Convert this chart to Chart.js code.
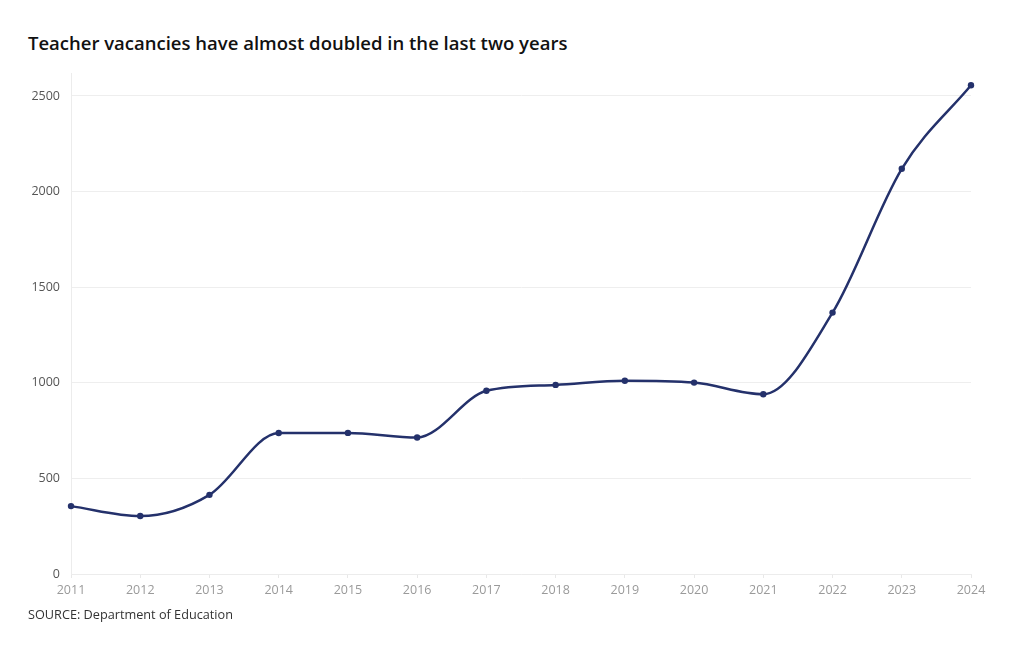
<!DOCTYPE html>
<html>
<head>
<meta charset="utf-8">
<script src="https://cdn.jsdelivr.net/npm/chart.js@4"></script>
<style>
    body { margin: 0; background: #ffffff; }
    #wrap { position: relative; width: 1020px; height: 650px; }
    #title {
        position: absolute; left: 28px; top: 30px;
        font-family: "Open Sans", sans-serif; font-weight: 600; font-size: 18.5px;
        color: #111111; white-space: nowrap;
    }
    #source {
        position: absolute; left: 28px; top: 605px;
        font-family: "Open Sans", sans-serif; font-size: 12.7px; color: #333333;
    }
    #chart-box { position: absolute; left: 0; top: 0; width: 1020px; height: 650px; }
</style>
</head>
<body>
<div id="wrap">
    <div id="title">Teacher vacancies have almost doubled in the last two years</div>
    <div id="chart-box"><canvas id="vacancies-chart"></canvas></div>
    <div id="source">SOURCE: Department of Education</div>
</div>
<script>
// Chart data
var years = ['2011', '2012', '2013', '2014', '2015', '2016', '2017',
             '2018', '2019', '2020', '2021', '2022', '2023', '2024'];
var vacancies = [355, 303, 414, 737, 738, 714, 958, 989, 1011, 1001, 940, 1367, 2119, 2556];
var yTicks = [0, 500, 1000, 1500, 2000, 2500];

var lineColor = '#24316b';

(function() {
    'use strict';

    var canvas = document.getElementById('vacancies-chart');
    var ctx = canvas.getContext('2d');

    new Chart(ctx, {
        type: 'line',
        data: {
            labels: years,
            datasets: [{
                data: vacancies,
                borderColor: lineColor,
                backgroundColor: lineColor,
                borderWidth: 2.5,
                cubicInterpolationMode: 'monotone',
                pointRadius: 3.2,
                pointBackgroundColor: lineColor,
                pointBorderWidth: 0,
                fill: false
            }]
        },
        options: {
            responsive: true,
            maintainAspectRatio: false,
            animation: false,
            layout: {
                padding: { top: 73, right: 49, bottom: 46, left: 0 }
            },
            plugins: {
                legend: { display: false },
                tooltip: { enabled: false }
            },
            scales: {
                x: {
                    offset: false,
                    afterFit: function(scale) { scale.height = 30; },
                    grid: {
                        drawOnChartArea: false,
                        drawTicks: true,
                        tickLength: 4,
                        color: '#e8e8e8'
                    },
                    border: { display: true, color: '#ececec' },
                    ticks: {
                        color: '#9a9a9a',
                        padding: 5,
                        maxRotation: 0,
                        font: { family: 'Open Sans', size: 12.5 }
                    }
                },
                y: {
                    min: 0,
                    max: 2620,
                    afterFit: function(scale) { scale.width = 71; },
                    afterBuildTicks: function(scale) {
                        scale.ticks = yTicks.map(function(v) { return { value: v }; });
                    },
                    grid: {
                        color: '#eeeeee',
                        drawTicks: false
                    },
                    border: { display: true, color: '#ececec' },
                    ticks: {
                        color: '#555555',
                        padding: 11,
                        font: { family: 'Open Sans', size: 12.5 },
                        callback: function(value) {
                            return String(value);
                        }
                    }
                }
            }
        }
    });
})();
</script>
</body>
</html>
